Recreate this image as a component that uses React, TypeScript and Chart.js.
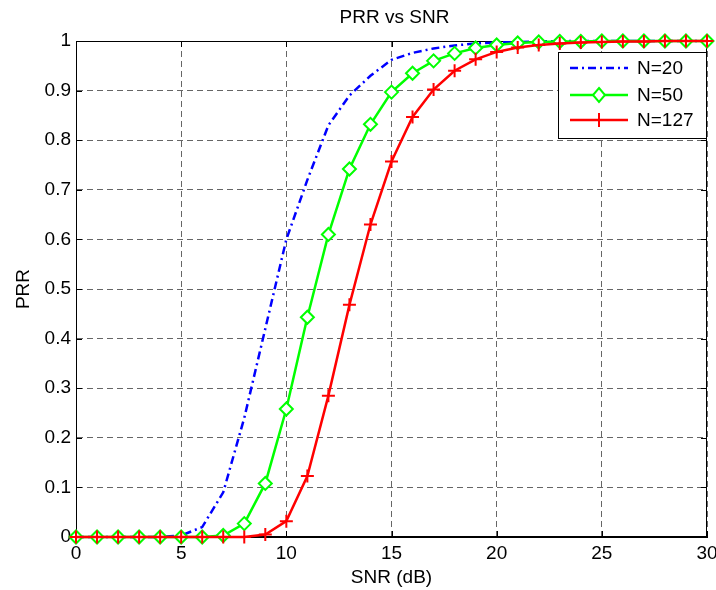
import React, { useEffect, useRef } from "react";
import { Chart, registerables } from "chart.js";

Chart.register(...registerables);

const snr = [0,1,2,3,4,5,6,7,8,9,10,11,12,13,14,15,16,17,18,19,20,21,22,23,24,25,26,27,28,29,30];
const prrN20 = [0,0,0,0,0,0.003,0.02,0.09,0.24,0.42,0.6,0.72,0.83,0.89,0.93,0.962,0.976,0.985,0.991,0.995,0.997,0.998,0.999,1,1,1,1,1,1,1,1];
const prrN50 = [0,0,0,0,0,0,0,0.003,0.027,0.108,0.258,0.443,0.61,0.742,0.832,0.897,0.935,0.96,0.975,0.986,0.992,0.996,0.998,0.999,0.999,1,1,1,1,1,1];
const prrN127 = [0,0,0,0,0,0,0,0,0,0.005,0.032,0.123,0.285,0.468,0.63,0.757,0.847,0.902,0.94,0.963,0.978,0.987,0.992,0.995,0.997,0.998,0.999,0.999,1,1,1];
const seriesLabels = ["N=20", "N=50", "N=127"];
const xTickLabels = ["0", "5", "10", "15", "20", "25", "30"];
const yTickLabels = ["0", "0.1", "0.2", "0.3", "0.4", "0.5", "0.6", "0.7", "0.8", "0.9", "1"];
const chartTitle = "PRR vs SNR";
const xTitle = "SNR (dB)";
const yTitle = "PRR";

const FONT = "'Liberation Sans', Arial, Helvetica, sans-serif";
const FS = 19;

const framePlugin = {
  id: "frameAndTicks",
  beforeDatasetsDraw(chart: any) {
    const { ctx, chartArea } = chart;
    const { left, right, top, bottom } = chartArea;
    ctx.save();
    ctx.strokeStyle = "#000";
    ctx.lineWidth = 1;
    ctx.setLineDash([]);
    ctx.strokeRect(left + 0.5, top + 0.5, right - left - 1, bottom - top - 1);
    const tl = 6;
    const xs = chart.scales.x;
    const ys = chart.scales.y;
    ctx.beginPath();
    xs.ticks.forEach((t: any) => {
      const px = Math.round(xs.getPixelForValue(t.value)) + 0.5;
      ctx.moveTo(px, bottom);
      ctx.lineTo(px, bottom - tl);
      ctx.moveTo(px, top);
      ctx.lineTo(px, top + tl);
    });
    ys.ticks.forEach((t: any) => {
      const py = Math.round(ys.getPixelForValue(t.value)) + 0.5;
      ctx.moveTo(left, py);
      ctx.lineTo(left + tl, py);
      ctx.moveTo(right, py);
      ctx.lineTo(right - tl, py);
    });
    ctx.stroke();
    ctx.restore();
  },
  afterDraw(chart: any) {
    const { ctx, chartArea } = chart;
    ctx.save();
    ctx.fillStyle = "#000";
    ctx.font = `${FS}px ${FONT}`;
    ctx.textAlign = "center";
    ctx.textBaseline = "middle";
    ctx.fillText(chartTitle, (chartArea.left + chartArea.right) / 2 + 3, 18);

    // legend box inside the plot area (top-right)
    const bx = chartArea.right - 149;
    const by = chartArea.top + 11;
    const bw = 148;
    const bh = 86;
    ctx.fillStyle = "#fff";
    ctx.fillRect(bx, by, bw, bh);
    ctx.strokeStyle = "#000";
    ctx.lineWidth = 1;
    ctx.setLineDash([]);
    ctx.strokeRect(bx + 0.5, by + 0.5, bw, bh);
    const rowsY = [by + 16, by + 43, by + 68];
    chart.data.datasets.forEach((ds: any, i: number) => {
      const y = rowsY[i];
      const x1 = bx + 12;
      const x2 = bx + 70;
      ctx.save();
      ctx.strokeStyle = ds.borderColor;
      ctx.lineWidth = ds.borderWidth;
      ctx.setLineDash(ds.borderDash || []);
      ctx.beginPath();
      ctx.moveTo(x1, y);
      ctx.lineTo(x2, y);
      ctx.stroke();
      ctx.setLineDash([]);
      const mx = (x1 + x2) / 2;
      if (ds.pointStyle === "rectRot") {
        ctx.fillStyle = "#fff";
        ctx.lineWidth = 2;
        ctx.beginPath();
        ctx.moveTo(mx, y - 7);
        ctx.lineTo(mx + 6, y);
        ctx.lineTo(mx, y + 7);
        ctx.lineTo(mx - 6, y);
        ctx.closePath();
        ctx.fill();
        ctx.stroke();
      } else if (ds.pointStyle === "cross") {
        ctx.lineWidth = 2;
        ctx.beginPath();
        ctx.moveTo(mx - 6, y);
        ctx.lineTo(mx + 6, y);
        ctx.moveTo(mx, y - 7);
        ctx.lineTo(mx, y + 7);
        ctx.stroke();
      }
      ctx.restore();
      ctx.fillStyle = "#000";
      ctx.font = `${FS}px ${FONT}`;
      ctx.textAlign = "left";
      ctx.textBaseline = "middle";
      ctx.fillText(ds.label, bx + 79, y + 1);
    });
    ctx.restore();
  },
};

export default function App() {
  const ref = useRef<HTMLCanvasElement>(null);
  useEffect(() => {
    const canvas = ref.current;
    if (!canvas) return;
    const mk = (ys: number[]) => snr.map((x, i) => ({ x, y: ys[i] }));
    const chart = new Chart(canvas, {
      type: "line",
      data: {
        datasets: [
          {
            label: seriesLabels[0],
            data: mk(prrN20),
            borderColor: "#0000ff",
            borderWidth: 2.5,
            borderDash: [8, 4, 2, 4],
            pointRadius: 0,
            pointStyle: "line",
            tension: 0,
            clip: false,
            order: 2,
          },
          {
            label: seriesLabels[1],
            data: mk(prrN50),
            borderColor: "#00ff00",
            backgroundColor: "#fff",
            borderWidth: 2.5,
            pointStyle: "rectRot",
            pointRadius: 6.5,
            pointBorderWidth: 2,
            pointBorderColor: "#00ff00",
            pointBackgroundColor: "#fff",
            tension: 0,
            clip: false,
            order: 1,
          },
          {
            label: seriesLabels[2],
            data: mk(prrN127),
            borderColor: "#ff0000",
            borderWidth: 2.5,
            pointStyle: "cross",
            pointRadius: 6.5,
            pointBorderWidth: 2,
            pointBorderColor: "#ff0000",
            tension: 0,
            clip: false,
            order: 0,
          },
        ],
      },
      options: {
        responsive: false,
        animation: false,
        maintainAspectRatio: false,
        layout: { padding: { top: 41, right: 9, left: 0, bottom: 0 } },
        plugins: {
          legend: { display: false },
          title: { display: false },
          tooltip: { enabled: false },
        },
        scales: {
          x: {
            type: "linear",
            min: 0,
            max: 30,
            afterFit(scale: any) {
              scale.height = 53;
              scale.paddingLeft = 0;
              scale.paddingRight = 0;
            },
            ticks: {
              stepSize: 5,
              autoSkip: false,
              maxRotation: 0,
              padding: 5,
              color: "#000",
              font: { family: FONT, size: FS },
              callback: (_v: any, i: number) => xTickLabels[i],
            },
            grid: {
              color: "rgba(0,0,0,0.6)",
              lineWidth: 1,
              drawTicks: false,
            },
            border: { display: true, color: "#000", width: 1, dash: [6, 4] },
            title: {
              display: true,
              text: xTitle,
              color: "#000",
              font: { family: FONT, size: FS },
              padding: { top: 0, bottom: 1 },
            },
          },
          y: {
            type: "linear",
            min: 0,
            max: 1,
            afterFit(scale: any) {
              scale.width = 76;
              scale.paddingTop = 0;
              scale.paddingBottom = 0;
            },
            ticks: {
              stepSize: 0.1,
              autoSkip: false,
              padding: 5,
              color: "#000",
              font: { family: FONT, size: FS },
              callback: (_v: any, i: number) => yTickLabels[i],
            },
            grid: {
              color: "rgba(0,0,0,0.6)",
              lineWidth: 1,
              drawTicks: false,
            },
            border: { display: true, color: "#000", width: 1, dash: [6, 4] },
            title: {
              display: true,
              text: yTitle,
              color: "#000",
              font: { family: FONT, size: FS },
              padding: { top: 12.5, bottom: 0 },
            },
          },
        },
      },
      plugins: [framePlugin],
    });
    return () => chart.destroy();
  }, []);
  return (
    <div style={{ position: "absolute", left: 0, top: 0, width: 716, height: 590, background: "#fff" }}>
      <canvas ref={ref} width={716} height={590} style={{ display: "block" }} />
    </div>
  );
}
